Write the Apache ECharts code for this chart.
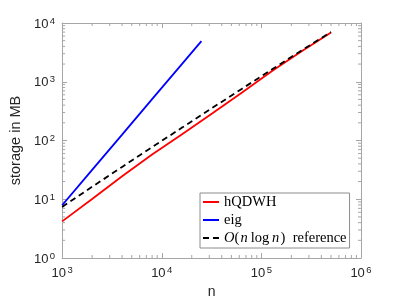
<!DOCTYPE html>
<html>
<head>
<meta charset="utf-8">
<script src="https://cdn.jsdelivr.net/npm/echarts@6/dist/echarts.min.js"></script>
<style>html,body{margin:0;padding:0;background:#fff;}#c{width:399px;height:304px;}</style>
</head>
<body>
<div id="c"></div>
<script>
// ---- data ----
const nHqdwh = [1000, 2000, 4000, 8000, 16000, 32000, 64000, 128000, 256000, 500000];
const hqdwh  = [4.2, 10.1, 24.7, 58, 128, 288, 655, 1530, 3350, 6900];
const nEig   = [1000, 2000, 4000, 8000, 16000, 25000];
const eig    = [7.9, 31.6, 126, 506, 2020, 4900];
const nRef   = [1000, 2000, 4000, 8000, 16000, 32000, 64000, 128000, 256000, 500000];
const refNlogn = [7.4, 16.3, 35.5, 77, 166, 357, 763, 1626, 3455, 7030];
const xTickExps = [3, 4, 5, 6];
const yTickExps = [0, 1, 2, 3, 4];
const minorMantissas = [2, 3, 4, 5, 6, 7, 8, 9];

const xMin = Math.pow(10, xTickExps[0]), xMax = Math.pow(10, xTickExps[xTickExps.length - 1]);
const yMin = Math.pow(10, yTickExps[0]), yMax = Math.pow(10, yTickExps[yTickExps.length - 1]);

const zip = (a, b) => a.map((v, i) => [v, b[i]]);
const xMinor = [], yMinor = [];
xTickExps.slice(0, -1).forEach(e => minorMantissas.forEach(m => xMinor.push([m * Math.pow(10, e), yMin])));
yTickExps.slice(0, -1).forEach(e => minorMantissas.forEach(m => yMinor.push([xMin, m * Math.pow(10, e)])));

const axisColor = '#a6a6a6';
const labelColor = '#262626';
const sansFont = '"Liberation Sans", Arial, Helvetica, sans-serif';
const serifFont = '"Liberation Serif", "Times New Roman", serif';

const powRich = {
  b: { fontSize: 13, fontFamily: sansFont, color: labelColor, lineHeight: 14, padding: [2, 0, 0, 0] },
  s: { fontSize: 9.5, fontFamily: sansFont, color: labelColor, verticalAlign: 'top', lineHeight: 10, padding: [0, 0, 0, 1.5] }
};
const powFmt = v => '{b|10}{s|' + Math.round(Math.log10(v)) + '}';

function baseAxis(extra) {
  return Object.assign({
    type: 'log', logBase: 10,
    axisLine: { show: true, lineStyle: { color: axisColor, width: 1 } },
    axisTick: { show: true, inside: true, length: 5, lineStyle: { color: axisColor } },
    splitLine: { show: false },
    minorTick: { show: false }
  }, extra);
}

const minorStyle = { stroke: axisColor, lineWidth: 1 };
const solidIcon = 'path://M0,0H16V2H0Z';
const dashIcon = 'path://M0,0H6V2H0Z M10,0H16V2H10Z';

const chart = echarts.init(document.getElementById('c'), null, { renderer: 'canvas' });
chart.setOption({
  animation: false,
  backgroundColor: '#fff',
  grid: { left: 52, top: 23, right: 38, bottom: 42, containLabel: false },
  xAxis: [
    baseAxis({ min: xMin, max: xMax, position: 'bottom',
      axisLabel: { formatter: powFmt, rich: powRich, margin: 7 },
      name: 'n', nameLocation: 'middle', nameGap: 27,
      nameTextStyle: { fontFamily: sansFont, fontSize: 14, color: labelColor } }),
    baseAxis({ min: xMin, max: xMax, position: 'top', axisLabel: { show: false } })
  ],
  yAxis: [
    baseAxis({ min: yMin, max: yMax, position: 'left',
      axisLabel: { formatter: powFmt, rich: powRich, margin: 7 },
      name: 'storage in MB', nameLocation: 'middle', nameGap: 29, nameRotate: 90,
      nameTextStyle: { fontFamily: sansFont, fontSize: 14.5, color: labelColor } }),
    baseAxis({ min: yMin, max: yMax, position: 'right', axisLabel: { show: false } })
  ],
  legend: {
    orient: 'vertical', left: 200, top: 193,
    itemWidth: 16, itemHeight: 2, itemGap: 2,
    padding: [1, 3, 2, 3],
    borderColor: '#8c8c8c', borderWidth: 1, backgroundColor: '#fff',
    data: [
      { name: 'hQDWH', icon: solidIcon },
      { name: 'eig', icon: solidIcon },
      { name: 'ref', icon: dashIcon }
    ],
    formatter: name => name === 'ref' ? '{i|O}(\u200a{i|n}\u2009log\u2009{i|n}\u200a)\u2002reference' : name,
    textStyle: {
      fontFamily: serifFont, fontSize: 14.5, lineHeight: 16, color: '#000',
      rich: { i: { fontFamily: serifFont, fontStyle: 'italic', fontSize: 14.5, lineHeight: 16, color: '#000' } }
    }
  },
  series: [
    { name: 'hQDWH', type: 'line', data: zip(nHqdwh, hqdwh), showSymbol: false, symbol: 'none',
      lineStyle: { color: '#ff0000', width: 1.8 }, itemStyle: { color: '#ff0000' }, z: 3 },
    { name: 'eig', type: 'line', data: zip(nEig, eig), showSymbol: false, symbol: 'none',
      lineStyle: { color: '#0000ff', width: 1.8 }, itemStyle: { color: '#0000ff' }, z: 3 },
    { name: 'ref', type: 'line', data: zip(nRef, refNlogn), showSymbol: false, symbol: 'none',
      lineStyle: { color: '#000000', width: 1.8, type: [6, 4] }, itemStyle: { color: '#000' }, z: 4 },
    { type: 'custom', silent: true, clip: false, data: xMinor, encode: { x: 0, y: 1 }, z: 1,
      renderItem: (params, api) => {
        const v = api.value(0);
        const a = api.coord([v, yMin]), b = api.coord([v, yMax]);
        return { type: 'group', children: [
          { type: 'line', shape: { x1: a[0], y1: a[1], x2: a[0], y2: a[1] - 3 }, style: minorStyle },
          { type: 'line', shape: { x1: b[0], y1: b[1], x2: b[0], y2: b[1] + 3 }, style: minorStyle }
        ] };
      } },
    { type: 'custom', silent: true, clip: false, data: yMinor, encode: { x: 0, y: 1 }, z: 1,
      renderItem: (params, api) => {
        const v = api.value(1);
        const a = api.coord([xMin, v]), b = api.coord([xMax, v]);
        return { type: 'group', children: [
          { type: 'line', shape: { x1: a[0], y1: a[1], x2: a[0] + 3, y2: a[1] }, style: minorStyle },
          { type: 'line', shape: { x1: b[0], y1: b[1], x2: b[0] - 3, y2: b[1] }, style: minorStyle }
        ] };
      } }
  ]
});
</script>
</body>
</html>
